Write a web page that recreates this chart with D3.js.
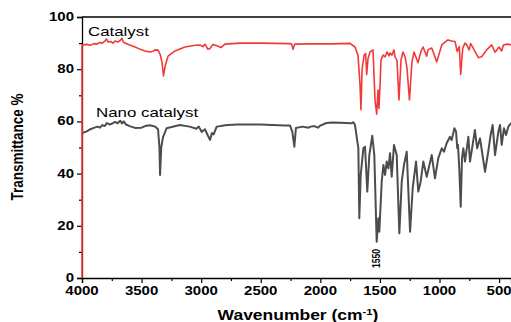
<!DOCTYPE html>
<html><head><meta charset="utf-8">
<script src="https://cdn.jsdelivr.net/npm/d3@7"></script>
<style>body{margin:0;background:#fff}svg{display:block}text{font-family:"Liberation Sans",Arial,sans-serif}</style>
</head><body><svg id="c" width="511" height="322"></svg>
<script>
// Catalyst spectrum: [wavenumber, transmittance %]
const catalystWave = [4000,4000,3960,3930,3900,3880,3850,3830,3807,3795,3780,3760,3740,3723,3700,3680,3664,3655,3639,3600,3555,3510,3471,3429,3400,3387,3362,3345,3329,3316,3303,3278,3220,3136,3050,3010,2985,2968,2943,2926,2901,2880,2859,2834,2800,2674,2506,2260,2240,2229,2215,2087,1900,1835,1751,1709,1684,1667,1659,1650,1633,1620,1611,1600,1583,1558,1541,1527,1516,1508,1499,1491,1474,1457,1440,1424,1415,1399,1382,1373,1357,1340,1323,1306,1289,1273,1252,1231,1214,1180,1155,1138,1107,1096,1065,1023,981,930,898,870,851,834,822,805,786,771,752,738,674,646,604,562,534,500,478,464,431,400];
const catalystT = [0,89.3,89.5,89.2,89.8,89.6,90.2,90.0,90.8,91.6,90.4,90.6,90.0,90.8,90.4,91.0,91.8,90.6,90.0,89.3,88.5,87.6,87.0,86.6,87.0,87.4,87.3,85.8,82.8,77.4,81.0,85.0,87.0,88.5,89.2,89.3,88.6,89.6,87.6,87.9,89.5,89.2,88.8,88.3,89.6,90.0,90.0,89.8,89.6,87.6,89.6,89.7,89.7,89.8,89.9,88.5,85.4,74.0,64.5,79.7,85.4,86.0,78.0,84.0,86.6,87.4,68.0,62.8,72.0,65.0,73.9,83.5,85.4,84.7,86.6,85.1,86.2,85.4,87.4,84.7,83.5,68.2,83.5,86.6,84.7,80.5,68.2,82.8,86.6,82.5,87.0,88.5,85.0,87.5,88.1,82.8,89.3,91.2,90.8,90.6,86.8,88.7,78.0,88.1,90.0,89.3,87.4,89.8,84.4,84.8,87.4,89.3,86.5,88.5,87.0,89.3,89.6,89.3];
// Nano catalyst spectrum
const nanoWave = [4000,3960,3930,3900,3870,3850,3830,3810,3790,3770,3745,3723,3700,3680,3664,3650,3630,3600,3555,3500,3471,3429,3387,3362,3350,3345,3335,3320,3290,3180,3096,3040,3020,2996,2968,2943,2926,2910,2895,2870,2834,2800,2700,2506,2300,2254,2235,2218,2205,2150,2100,2080,2050,2020,2000,1950,1900,1835,1737,1723,1709,1681,1673,1661,1639,1625,1606,1589,1564,1547,1527,1513,1505,1485,1471,1457,1443,1429,1415,1401,1382,1359,1337,1317,1298,1275,1247,1225,1197,1178,1158,1136,1107,1065,1038,1010,981,962,940,912,898,875,861,851,845,834,822,811,800,786,758,744,722,703,684,660,618,591,571,554,534,506,492,478,459,442,422,400];
const nanoT = [55.5,56.2,57.0,57.5,58.0,57.6,58.6,58.2,59.4,58.8,59.2,59.8,59.3,60.3,59.2,60.0,58.8,58.2,57.5,57.6,58.2,58.5,58.0,57.0,50.0,39.5,50.0,54.0,57.4,58.6,58.0,57.2,58.0,56.0,57.0,54.5,52.9,55.5,55.0,58.0,58.2,58.5,58.8,58.8,58.4,58.4,56.0,50.3,57.5,58.0,57.6,58.0,58.2,57.6,58.4,59.4,59.6,59.5,59.3,59.7,58.6,49.7,22.9,39.5,49.7,50.3,33.1,47.1,54.5,47.1,13.9,22.9,17.7,36.9,43.3,39.5,44.6,42.0,47.8,38.8,51.0,47.1,17.1,36.9,43.3,48.4,17.7,34.4,44.6,33.1,36.9,44.6,38.8,47.1,38.2,45.9,49.7,48.4,51.6,54.1,52.9,57.4,56.1,49.7,51.0,42.0,27.3,45.9,49.7,44.6,54.1,44.6,51.0,56.7,49.7,53.5,40.7,48.4,54.8,58.6,47.1,56.1,58.6,51.0,57.4,54.8,58.0,59.3];
const xTicks = [4000,3500,3000,2500,2000,1500,1000,500];
const yTicks = [0,20,40,60,80,100];
const seriesNames = ["Catalyst","Nano catalyst"];
const peakLabel = "1550";

const svg = d3.select("#c");
const m = {l:82, r:511, t:17, b:278};
const x = d3.scaleLinear().domain([4000,400]).range([m.l, m.r]);
const y = d3.scaleLinear().domain([0,100]).range([m.b, m.t]);
const SX = 1.25; // horizontal stretch of the original text

function stext(px, py, str, opts) {
  const g = svg.append("g").attr("transform", `translate(${px},${py})` + (opts.rot ? ` rotate(${opts.rot})` : "") + ` scale(${opts.rot ? 1 : SX},${opts.rot ? SX : 1})`);
  const t = g.append("text").attr("text-anchor", opts.anchor || "start")
    .attr("font-size", opts.size).attr("font-weight", opts.weight || "normal").attr("fill", opts.fill || "#000");
  return t.text(str);
}

// axes
const xAxis = svg.append("g").attr("transform", `translate(0,${m.b})`)
  .call(d3.axisBottom(x).tickValues(xTicks).tickSize(5).tickFormat(() => ""));
const xMinor = svg.append("g").attr("transform", `translate(0,${m.b})`)
  .call(d3.axisBottom(x).tickValues(d3.range(3750, 400, -500)).tickSize(3).tickFormat(() => ""));
const yAxis = svg.append("g").attr("transform", `translate(${m.l},0)`)
  .call(d3.axisLeft(y).tickValues(yTicks).tickSize(5).tickFormat(() => ""));
const yMinor = svg.append("g").attr("transform", `translate(${m.l},0)`)
  .call(d3.axisLeft(y).tickValues(d3.range(10, 100, 20)).tickSize(3).tickFormat(() => ""));
[xAxis, xMinor, yAxis, yMinor].forEach(a => {
  a.selectAll("path").attr("stroke", "#000").attr("stroke-width", 1.3);
  a.selectAll("line").attr("stroke", "#000").attr("stroke-width", 1.2);
});
xMinor.select("path").remove(); yMinor.select("path").remove();
svg.append("line").attr("x1", m.l).attr("x2", m.r).attr("y1", m.t).attr("y2", m.t).attr("stroke", "#000").attr("stroke-width", 1.3);

xTicks.forEach(v => stext(x(v), m.b + 17, v, {size: 12, weight: "bold", anchor: "middle"}));
yTicks.forEach(v => stext(m.l - 8, y(v) + 4, v, {size: 12, weight: "bold", anchor: "end"}));

// axis titles
const xt = stext(298, 320, "", {size: 14, weight: "bold", anchor: "middle"});
xt.append("tspan").text("Wavenumber (cm");
xt.append("tspan").attr("dy", -5).attr("font-size", 9).text("-1");
xt.append("tspan").attr("dy", 5).text(")");
stext(23, 147, "Transmittance %", {size: 13.5, weight: "bold", anchor: "middle", rot: -90});

// lines
const line = d3.line().x(d => x(d[0])).y(d => y(d[1]));
const nano = nanoWave.map((w, i) => [w, nanoT[i]]);
const cat = catalystWave.map((w, i) => [w, catalystT[i]]);
svg.append("path").datum(nano).attr("d", line).attr("fill", "none").attr("stroke", "#4d4d4d").attr("stroke-width", 2).attr("stroke-linejoin", "round");
svg.append("path").datum(cat).attr("d", line).attr("fill", "none").attr("stroke", "#f03a3a").attr("stroke-width", 1.6).attr("stroke-linejoin", "round");

// labels
stext(88, 36, seriesNames[0], {size: 13.5});
stext(96, 117, seriesNames[1], {size: 13.5});
stext(380, 268, peakLabel, {size: 8.5, weight: "bold", anchor: "start", rot: -90});
</script></body></html>
